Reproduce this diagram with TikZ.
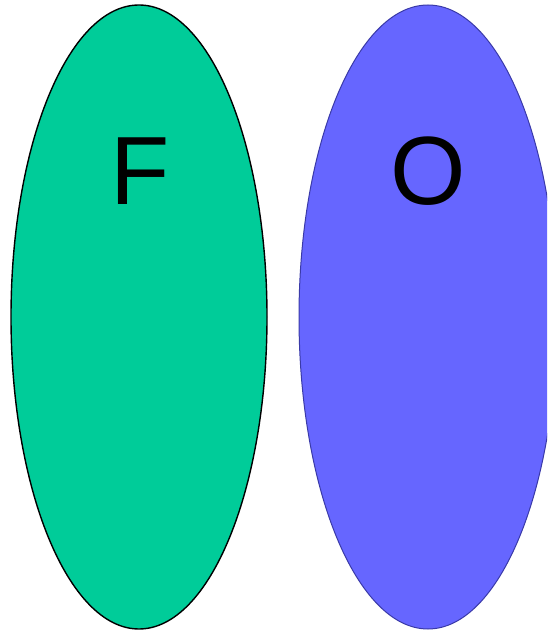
\documentclass[tikz,border=0pt]{standalone}
\usepackage{fontspec}
\setmainfont{Liberation Sans}
\usetikzlibrary{shapes.geometric}
\definecolor{fgreen}{HTML}{00CC99}
\definecolor{oblue}{HTML}{6666FF}
\definecolor{oedge}{HTML}{3A3AA8}
\tikzset{
  setshape/.style={ellipse, inner sep=0pt, minimum width=256pt, minimum height=624pt},
  biglabel/.style={font=\fontsize{97}{97}\selectfont, inner sep=0pt, anchor=base}
}
\begin{document}
\begin{tikzpicture}[x=1pt,y=1pt]
\clip (0,0) rectangle (547,632);
\fill[white] (0,0) rectangle (547,632);
\node[setshape, fill=fgreen, draw=black, line width=1.4pt] (F) at (139,315) {};
\node[setshape, fill=oblue, draw=oedge, line width=1pt, minimum width=258pt] (O) at (428,315) {};
\node[biglabel] (Flabel) at (140,427) {F};
\node[biglabel] (Olabel) at (428,427) {O};
\end{tikzpicture}
\end{document}
